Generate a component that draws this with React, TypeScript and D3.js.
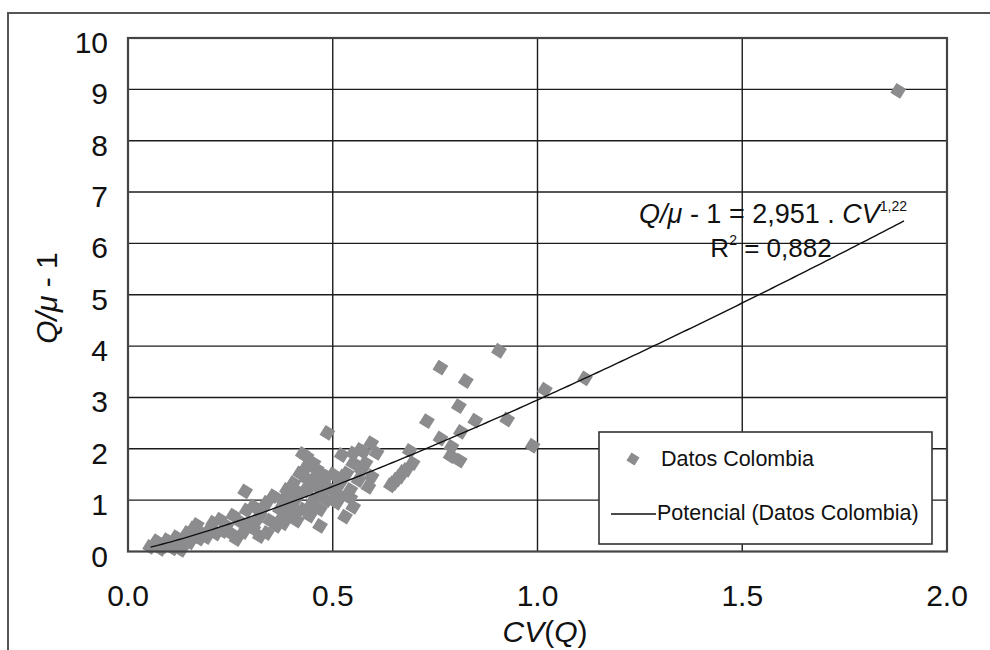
import React from 'react';
import * as d3 from 'd3';

// CV(Q) values of the Colombian stations
const cvValues = [
  0.054, 0.065, 0.070, 0.080, 0.086, 0.095, 0.103, 0.110, 0.118, 0.123, 0.130, 0.136, 0.145, 0.151,
  0.160, 0.164, 0.168, 0.175, 0.184, 0.192, 0.200, 0.208, 0.215, 0.225, 0.232, 0.241, 0.250, 0.257,
  0.265, 0.274, 0.282, 0.286, 0.290, 0.298, 0.306, 0.306, 0.315, 0.322, 0.322, 0.330, 0.339, 0.339,
  0.347, 0.355, 0.363, 0.371, 0.375, 0.380, 0.388, 0.388, 0.395, 0.404, 0.404, 0.410, 0.412, 0.420,
  0.420, 0.427, 0.428, 0.436, 0.436, 0.436, 0.444, 0.444, 0.453, 0.453, 0.453, 0.461, 0.469, 0.469,
  0.469, 0.477, 0.485, 0.485, 0.487, 0.497, 0.501, 0.510, 0.518, 0.518, 0.522, 0.526, 0.530, 0.534,
  0.543, 0.543, 0.550, 0.550, 0.550, 0.563, 0.567, 0.571, 0.575, 0.580, 0.587, 0.594, 0.595, 0.607,
  0.642, 0.648, 0.656, 0.664, 0.672, 0.680, 0.688, 0.695, 0.730, 0.763, 0.763, 0.788, 0.790, 0.808,
  0.810, 0.813, 0.825, 0.848, 0.906, 0.926, 0.988, 1.018, 1.116, 1.881,
  0.392, 0.415, 0.432, 0.448, 0.458, 0.472, 0.380, 0.400,
];
// Q/mu - 1 for the same stations
const ratioValues = [
  0.09, 0.14, 0.20, 0.05, 0.10, 0.22, 0.18, 0.06, 0.28, 0.10, 0.03, 0.24, 0.36, 0.18,
  0.45, 0.30, 0.52, 0.25, 0.34, 0.28, 0.44, 0.56, 0.35, 0.62, 0.40, 0.50, 0.36, 0.70,
  0.24, 0.58, 0.38, 1.17, 0.80, 0.55, 0.88, 0.44, 0.62, 0.30, 0.70, 0.85, 0.95, 0.36,
  0.60, 1.08, 0.50, 0.82, 0.65, 1.00, 1.20, 0.70, 0.90, 1.33, 0.95, 1.10, 0.60, 1.52,
  1.14, 1.90, 0.82, 1.65, 1.42, 1.85, 0.70, 1.25, 1.72, 1.40, 1.00, 1.60, 1.52, 0.82,
  0.50, 1.33, 1.00, 1.46, 2.31, 1.20, 1.50, 0.95, 1.33, 1.08, 1.88, 1.46, 0.68, 1.52,
  1.20, 1.04, 1.72, 1.91, 0.87, 1.39, 1.98, 1.59, 1.94, 1.72, 1.26, 2.11, 1.46, 1.92,
  1.29, 1.33, 1.40, 1.46, 1.55, 1.59, 1.96, 1.72, 2.54, 3.58, 2.20, 1.86, 2.04, 2.83,
  1.77, 2.33, 3.32, 2.55, 3.91, 2.57, 2.06, 3.15, 3.37, 8.97,
  1.05, 0.78, 1.18, 0.92, 1.28, 1.12, 0.55, 0.72,
];

// fitted power law shown on the chart: Q/mu - 1 = 2,951 . CV^1,22
const fitCoef = 2.951;
const fitExp = 1.22;
const fitRange = [0.055, 1.9];

const xTicks = [0, 0.5, 1.0, 1.5, 2.0];
const yTicks = [0, 1, 2, 3, 4, 5, 6, 7, 8, 9, 10];

const FONT = 'Liberation Sans, Arial, Helvetica, sans-serif';
const GREY = '#8c8c8e';

export default function App() {
  const W = 990;
  const H = 650;

  const x = d3.scaleLinear().domain([0, 2]).range([128, 947]);
  const y = d3.scaleLinear().domain([0, 10]).range([551.5, 38]);

  const points = cvValues.map((cv, i) => ({ cv, r: ratioValues[i] }));

  const fitData = d3.range(fitRange[0], fitRange[1] + 1e-9, 0.01)
    .map(cv => ({ cv, r: fitCoef * Math.pow(cv, fitExp) }));
  const fitLine = d3.line<{ cv: number; r: number }>()
    .x(d => x(d.cv))
    .y(d => y(d.r));

  const marker = d3.symbol().type(d3.symbolSquare).size(132)();

  const [x0, x1] = x.range();
  const [y0, y1] = y.range();

  return (
    <svg width={W} height={H} style={{ position: 'absolute', left: 0, top: 0, background: '#fff' }}
      fontFamily={FONT}>
      {/* outer frame (left + top only, rest is cropped) */}
      <path d={`M8,${H} V13 H${W}`} fill="none" stroke="#555" strokeWidth={2} />

      {/* grid */}
      {yTicks.slice(1, -1).map(t => (
        <line key={'gy' + t} x1={x0} x2={x1} y1={y(t)} y2={y(t)} stroke="#1c1c1c" strokeWidth={1.4} />
      ))}
      {xTicks.slice(1, -1).map(t => (
        <line key={'gx' + t} x1={x(t)} x2={x(t)} y1={y0} y2={y1} stroke="#1c1c1c" strokeWidth={1.4} />
      ))}

      {/* scatter */}
      {points.map((p, i) => (
        <path key={i} d={marker!} fill={GREY}
          transform={`translate(${x(p.cv)},${y(p.r)}) rotate(32)`} />
      ))}

      {/* trend line */}
      <path d={fitLine(fitData)!} fill="none" stroke="#111" strokeWidth={1.4} />

      {/* plot border */}
      <rect x={x0} y={y1} width={x1 - x0} height={y0 - y1} fill="none" stroke="#444" strokeWidth={2.2} />

      {/* y tick labels */}
      {yTicks.map(t => (
        <text key={'ty' + t} x={108} y={y(t) + 15} textAnchor="end" fontSize={30} fill="#111">{t}</text>
      ))}
      {/* x tick labels */}
      {xTicks.map(t => (
        <text key={'tx' + t} x={x(t)} y={606} textAnchor="middle" fontSize={30} fill="#111">{t.toFixed(1)}</text>
      ))}

      {/* axis titles */}
      <text x={545} y={642} textAnchor="middle" fontSize={30} fill="#111">
        <tspan fontStyle="italic">CV</tspan>(<tspan fontStyle="italic">Q</tspan>)
      </text>
      <text transform="translate(57,298) rotate(-90)" textAnchor="middle" fontSize={30} fill="#111">
        <tspan fontStyle="italic">Q/μ</tspan> - 1
      </text>

      {/* equation */}
      <text x={907} y={223} textAnchor="end" fontSize={27} fill="#111">
        <tspan fontStyle="italic">Q/μ</tspan> - 1 = 2,951 . <tspan fontStyle="italic">CV</tspan>
        <tspan fontSize={14} dy={-12}>1,22</tspan>
      </text>
      <text x={771} y={257} textAnchor="middle" fontSize={26} fill="#111">
        R<tspan fontSize={14} dy={-12}>2</tspan><tspan dy={12}> = 0,882</tspan>
      </text>

      {/* legend */}
      <g>
        <rect x={599} y={432} width={333} height={112} fill="#fff" stroke="#333" strokeWidth={1.6} />
        <path d={d3.symbol().type(d3.symbolSquare).size(90)()!} fill={GREY}
          transform="translate(633,459) rotate(32)" />
        <text x={661} y={466} fontSize={21.5} fill="#111">Datos Colombia</text>
        <line x1={611} x2={656} y1={514} y2={514} stroke="#111" strokeWidth={1.4} />
        <text x={657} y={520} fontSize={21.5} fill="#111">Potencial (Datos Colombia)</text>
      </g>
    </svg>
  );
}
